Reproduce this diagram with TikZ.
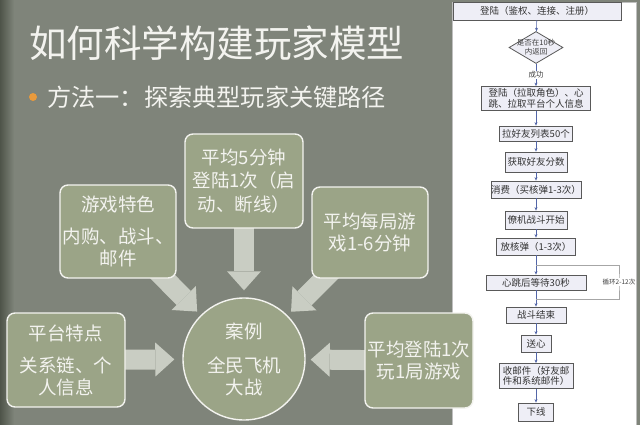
\documentclass[tikz,border=0pt]{standalone}
\usepackage{fontspec}
\setmainfont{Noto Sans CJK SC}
\usepackage{tikz}
\usetikzlibrary{arrows.meta,positioning,shapes.geometric,backgrounds}
\definecolor{slide}{HTML}{7F847A}
\definecolor{slidedark}{HTML}{4E5449}
\definecolor{olive}{HTML}{9BA487}
\definecolor{pale}{HTML}{C9CDC3}
\definecolor{chalk}{HTML}{F3F3EF}
\definecolor{dot}{HTML}{E99A3C}
\definecolor{lav}{HTML}{EEEEF6}
\definecolor{flowline}{HTML}{5366A8}
\pgfdeclarelayer{base}
\pgfsetlayers{base,background,main}

\begin{document}
\begin{tikzpicture}[x=1pt,y=-1pt,>=Stealth,thick]
\tikzstyle{box}=[draw=chalk, line width=1.4pt, fill=olive, rounded corners=8pt, align=center, text=chalk, font=\fontsize{18.5}{22}\selectfont, inner sep=2pt]
\tikzstyle{hub}=[box, circle, minimum size=122pt, inner sep=0pt]
\tikzstyle{fat}=[draw=pale, line width=20pt, -{Triangle[length=19pt,width=34pt,line width=0pt]}]
\tikzstyle{fbox}=[draw=black!65, fill=lav, line width=0.8pt, align=center, inner sep=0pt, text=black!80, font=\fontsize{9.5}{10.5}\selectfont]
\tikzstyle{fdia}=[fbox, diamond, minimum width=54pt, minimum height=32pt]
\tikzstyle{flow}=[draw=flowline, line width=0.6pt, -{Stealth[length=3.5pt,width=3pt]}]
\tikzstyle{small}=[text=black!75, font=\fontsize{7.5}{9}\selectfont, align=center, inner sep=1pt]
\useasboundingbox (0,0) rectangle (640,425);
\begin{pgfonlayer}{base}
\fill[slide] (0,0) rectangle (640,425);
\shade[left color=slidedark, right color=slide] (0,0) rectangle (14,425);
\fill[white, draw=black!25] (452,2) rectangle (636,425);
\end{pgfonlayer}
\node[anchor=west, inner sep=0pt, text=chalk, font=\fontsize{37.5}{40}\selectfont] (title) at (29,43) {如何科学构建玩家模型};
\fill[dot] (33,97) circle (4pt);
\node[anchor=west, inner sep=0pt, text=chalk, font=\fontsize{24.2}{28}\selectfont] (method) at (47,97) {方法一：探索典型玩家关键路径};
\node[box, minimum width=116pt, minimum height=93pt] (feat) at (118,231.5) {游戏特色\\[10pt]内购、战斗、\\邮件};
\node[box, minimum width=118pt, minimum height=94pt, font=\fontsize{18.5}{23.5}\selectfont] (every5) at (244,181) {平均5分钟\\登陆1次（启\\动、断线）};
\node[box, minimum width=116pt, minimum height=91pt] (pergame) at (370,232.5) {平均每局游\\戏1-6分钟};
\node[box, minimum width=118pt, minimum height=94pt] (plat) at (66,360) {平台特点\\[10pt]关系链、个\\人信息};
\node[hub] (case) at (244,359) {案例\\[12pt]全民飞机\\大战};
\node[box, minimum width=108pt, minimum height=95pt] (once) at (419,360.5) {平均登陆1次\\玩1局游戏};
\begin{pgfonlayer}{background}
\draw[fat, shorten >=7pt] (every5.center) -- (case);
\draw[fat, shorten >=5pt] (feat.center) -- (case);
\draw[fat, shorten >=5pt] (pergame.center) -- (case);
\draw[fat, shorten >=8pt] (plat.center) -- (case);
\draw[fat, shorten >=5pt] (once.center) -- (case);
\end{pgfonlayer}
\node[fbox, minimum width=168pt, minimum height=18pt] (login) at (537,11) {登陆（鉴权、连接、注册）};
\node[fdia] (check) at (536,47.5) {};
\node[small] (checktxt) at (check) {是否在10秒\\内返回};
\node[fbox, minimum width=109pt, minimum height=24pt] (enter) at (536,98.5) {登陆（拉取角色）、心\\跳、拉取平台个人信息};
\node[fbox, minimum width=73pt, minimum height=15pt] (friends) at (536,133.5) {拉好友列表50个};
\node[fbox, minimum width=62pt, minimum height=20pt] (scores) at (536,162) {获取好友分数};
\node[fbox, minimum width=90pt, minimum height=17pt] (buy) at (536,189.5) {消费（买核弹1-3次）};
\node[fbox, minimum width=62pt, minimum height=18pt] (battle) at (536,220) {僚机战斗开始};
\node[fbox, minimum width=79pt, minimum height=17pt] (bomb) at (536,246.5) {放核弹（1-3次）};
\node[fbox, minimum width=100pt, minimum height=15pt] (wait) at (536,282.5) {心跳后等待30秒};
\node[fbox, minimum width=60pt, minimum height=16pt] (over) at (536,315) {战斗结束};
\node[fbox, minimum width=30pt, minimum height=17pt] (heart) at (536,343.5) {送心};
\node[fbox, minimum width=74pt, minimum height=25pt] (mail) at (536,376) {收邮件（好友邮\\件和系统邮件）};
\node[fbox, minimum width=35pt, minimum height=18pt] (logout) at (536,412) {下线};
\draw[flow] (login) -- (check);
\draw[flow] (check) -- node[small, fill=white] (ok) {成功} (enter);
\draw[flow] (enter) -- (friends);
\draw[flow] (friends) -- (scores);
\draw[flow] (scores) -- (buy);
\draw[flow] (buy) -- (battle);
\draw[flow] (battle) -- (bomb);
\draw[flow] (bomb) -- (wait);
\draw[flow] (wait) -- (over);
\draw[flow] (over) -- (heart);
\draw[flow] (heart) -- (mail);
\draw[flow] (mail) -- (logout);
\coordinate (loopa) at (536,265);
\coordinate (loopb) at (536,299);
\coordinate (loopr) at (619,282);
\draw[black!35, line width=0.6pt] (loopa) -| (loopr) |- (loopb);
\node[small, fill=white, font=\fontsize{6.5}{8}\selectfont] (looptxt) at (loopr) {循环2-12次};
\end{tikzpicture}
\end{document}
